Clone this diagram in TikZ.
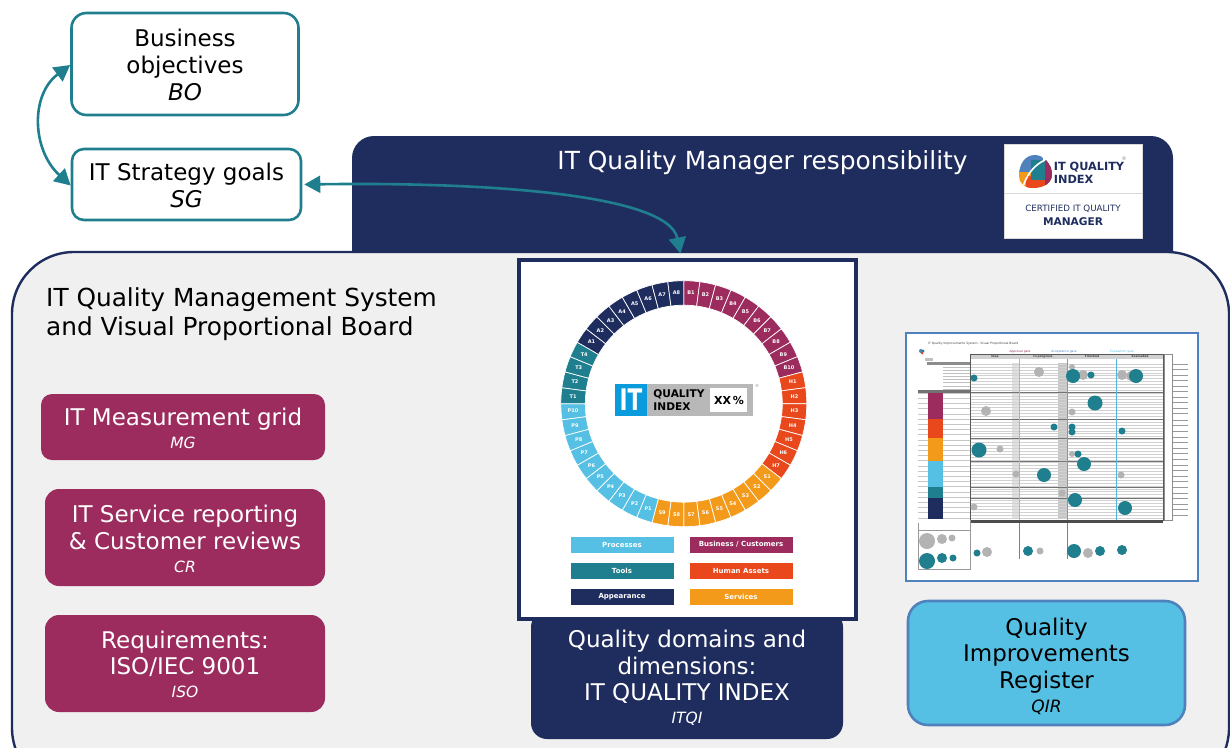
\documentclass[tikz,border=0pt]{standalone}
\usepackage{fontspec}
\setmainfont{DejaVu Sans}
\usetikzlibrary{arrows.meta}
\definecolor{navy}{HTML}{1F2D5E}
\definecolor{teal}{HTML}{1F7F8E}
\definecolor{mag}{HTML}{9C2C5E}
\definecolor{redor}{HTML}{E8481C}
\definecolor{oran}{HTML}{F39A1B}
\definecolor{lblue}{HTML}{55C0E3}
\definecolor{fblue}{HTML}{4F81BD}
\definecolor{panel}{HTML}{F0F0F0}
\definecolor{bub}{HTML}{B3B3B3}
\definecolor{itblue}{HTML}{0A9BDC}
\newcommand{\bigf}{\fontsize{23}{26.6}\selectfont}
\newcommand{\smf}{\fontsize{15.5}{19}\selectfont\itshape}
\newcommand{\dn}[1]{\rule{0pt}{#1pt}}
\tikzset{
  x=1pt,y=-1pt,
  goalbox/.style={draw=teal,line width=2.6pt,rounded corners=15pt,fill=white,align=center,text=black,inner sep=0pt,font=\bigf},
  magbox/.style={fill=mag,rounded corners=11pt,text=white,align=center,inner sep=0pt,font=\bigf},
  conn/.style={draw=teal,line width=2.6pt,{Triangle[width=17pt,length=16pt]}-{Triangle[width=17pt,length=16pt]}},
  legendbox/.style={inner sep=0pt,text=white,font=\fontsize{7}{8}\selectfont\bfseries,draw=white,line width=.4pt},
  seglabel/.style={text=white,font=\fontsize{5}{6}\selectfont\bfseries,inner sep=0pt},
  tinytext/.style={inner sep=0pt,font=\fontsize{3}{3.5}\selectfont,text=black!75},
}
\newcommand{\ringpt}[2]{({683.8+#2*cos(#1)},{403.7-#2*sin(#1)})}
\newcommand{\ringrun}[4]{% start index, colour, prefix, count
  \foreach \k in {1,...,#4}{
    \pgfmathsetmacro{\aA}{90-7.5*(#1+\k-1)}
    \pgfmathsetmacro{\aP}{\aA-2.5}
    \pgfmathsetmacro{\aQ}{\aA-5}
    \pgfmathsetmacro{\aB}{\aA-7.5}
    \pgfmathsetmacro{\aM}{\aA-3.75}
    \fill[#2,draw=white,line width=.7pt] \ringpt{\aA}{123} -- \ringpt{\aP}{123} -- \ringpt{\aQ}{123} -- \ringpt{\aB}{123}
       -- \ringpt{\aB}{98.5} -- \ringpt{\aQ}{98.5} -- \ringpt{\aP}{98.5} -- \ringpt{\aA}{98.5} -- cycle;
    \node[seglabel] (seg#3\k) at \ringpt{\aM}{111} {#3\k};
  }}
\newcommand{\bubT}[3]{\fill[teal] (#1,#2) circle[radius=#3];}
\newcommand{\bubG}[3]{\fill[bub] (#1,#2) circle[radius=#3];}
\begin{document}
\begin{tikzpicture}
\useasboundingbox (0,0) rectangle (1230,747);
\begin{scope}
\clip (0,0) rectangle (1230,747);
% navy responsibility panel
\path[fill=navy,rounded corners=22pt] (352,136) rectangle (1173,300);
% grey main panel
\path[fill=panel,draw=navy,line width=2.4pt,rounded corners=62pt] (12,252) rectangle (1229,790);
\end{scope}
\node[text=white,inner sep=0pt,font=\fontsize{24.9}{29}\selectfont] (title) at (762.5,163) {IT Quality Manager responsibility};
% certificate
\node[fill=white,draw=black!15,line width=.8pt,minimum width=138pt,minimum height=94pt,inner sep=0pt] (cert) at (1073,191) {};
\draw[black!15,line width=.8pt] (1004,193) -- (1142,193);
\begin{scope}
\clip (1035,155) .. controls (1044,155) and (1052,165) .. (1052,174) .. controls (1052,183) and (1044,188) .. (1033,188) .. controls (1024,188) and (1019,183) .. (1019,176) .. controls (1019,164) and (1025,155) .. (1035,155) -- cycle;
\fill[oran] (1015,170) rectangle (1032,192);
\fill[redor] (1026,176) rectangle (1056,192);
\fill[fblue] (1015,150) rectangle (1043,172);
\fill[teal] (1031,160) rectangle (1056,180);
\fill[mag] (1045,160) rectangle (1056,190);
\draw[white,line width=1.6pt] (1045,160) .. controls (1034,165) and (1026,175) .. (1022,190);
\end{scope}
\node[inner sep=0pt,align=left,text=navy,font=\fontsize{11.3}{13.5}\selectfont\bfseries] (certlogo) at (1089,173) {IT QUALITY\\INDEX};
\node[inner sep=0pt,text=black!45,font=\fontsize{5}{6}\selectfont] (certreg) at (1124,159) {®};
\node[inner sep=0pt,text=navy,font=\fontsize{8.7}{11}\selectfont] (certa) at (1073,209) {CERTIFIED IT QUALITY};
\node[inner sep=0pt,text=navy,font=\fontsize{10.6}{12}\selectfont\bfseries] (certb) at (1073,221.5) {MANAGER};
% goal boxes
\node[goalbox,minimum width=227pt,minimum height=102pt] (bo) at (185,64) {\dn{19.5}Business\\objectives\\\textit{BO}};
\node[goalbox,minimum width=229pt,minimum height=71pt,rounded corners=12pt] (sg) at (186.5,184.5) {\dn{19.5}IT Strategy goals\\\textit{SG}};
% panel title
\node[inner sep=0pt,align=left,anchor=west,font=\fontsize{24.8}{29}\selectfont] (pt) at (46,314) {IT Quality Management System\\and Visual Proportional Board};
% magenta boxes
\node[magbox,minimum width=284pt,minimum height=66pt] (mg) at (183,427) {\dn{20.5}IT Measurement grid\\[-3.6pt]{\smf MG}};
\node[magbox,minimum width=280pt,minimum height=97pt,rounded corners=14pt] (cr) at (185,537.5) {\dn{20.5}IT Service reporting\\\& Customer reviews\\[-3.6pt]{\smf CR}};
\node[magbox,minimum width=280pt,minimum height=97pt,rounded corners=14pt] (iso) at (185,663.5) {\dn{19.5}Requirements:\\ISO/IEC 9001\\[-3.6pt]{\smf ISO}};
% ITQI box
\node[fill=navy,rounded corners=16pt,text=white,align=center,inner sep=0pt,minimum width=312pt,minimum height=128pt,font=\bigf] (itqi) at (687,675) {\dn{23.5}Quality domains and\\dimensions:\\IT QUALITY INDEX\\[-3.6pt]{\smf ITQI}};
% QIR
\node[fill=lblue,draw=fblue,line width=2.6pt,rounded corners=20pt,align=center,inner sep=0pt,minimum width=277pt,minimum height=124pt,font=\bigf] (qir) at (1046.5,663) {\dn{23.5}Quality\\Improvements\\Register\\[-2.6pt]{\fontsize{17}{20}\selectfont\itshape QIR}};
% domain frame
\node[fill=white,draw=navy,line width=3.6pt,minimum width=337pt,minimum height=359pt,inner sep=0pt] (frame) at (687.5,439.5) {};
\ringrun{0}{mag}{B}{10}
\ringrun{10}{redor}{H}{7}
\ringrun{17}{oran}{S}{9}
\ringrun{26}{lblue}{P}{10}
\ringrun{36}{teal}{T}{4}
\ringrun{40}{navy}{A}{8}
% index logo
\fill[black!28] (647,384) rectangle (753,416);
\fill[white] (710,388) rectangle (747,412);
\node[fill=itblue,inner sep=0pt,minimum width=32pt,minimum height=32pt,text=white,font=\fontsize{27}{30}\selectfont\bfseries] (itlogo) at (631,400) {\scalebox{.8}[1.1]{IT}};
\node[inner sep=0pt,align=left,font=\fontsize{10.6}{13.5}\selectfont\bfseries,text=black] (qilogo) at (679,400) {QUALITY\\INDEX};
\node[inner sep=0pt,font=\fontsize{11}{14}\selectfont\bfseries,text=black] (xx) at (729,400) {XX\,\%};
\node[inner sep=0pt,text=black!45,font=\fontsize{4}{5}\selectfont] (reg) at (757,386) {®};
% legend
\node[legendbox,fill=lblue,minimum width=104pt,minimum height=17pt] (l1) at (622,544.5) {Processes};
\node[legendbox,fill=teal,minimum width=104pt,minimum height=17pt] (l2) at (622,570.5) {Tools};
\node[legendbox,fill=navy,minimum width=104pt,minimum height=17pt] (l3) at (622,596.5) {Appearance};
\node[legendbox,fill=mag,minimum width=104pt,minimum height=17pt] (l4) at (741,544.5) {Business / Customers};
\node[legendbox,fill=redor,minimum width=104pt,minimum height=17pt] (l5) at (741,570.5) {Human Assets};
\node[legendbox,fill=oran,minimum width=104pt,minimum height=17pt] (l6) at (741,596.5) {Services};
% board image
\node[fill=white,draw=fblue,line width=2.8pt,minimum width=292pt,minimum height=248pt,inner sep=0pt] (board) at (1052,457) {};
\node[tinytext,anchor=west] (bt) at (928,344) {IT Quality Improvements System - Visual Proportional Board};
\fill[fblue] (921,351) circle[radius=2];\fill[redor] (922,353) circle[radius=1.5];\fill[teal] (923,351) circle[radius=1.5];
\fill[black!25] (925,358) rectangle (933,361);
% column heads
\fill[black!18] (970,354) rectangle (1163,359);
\node[tinytext,font=\fontsize{3}{3.5}\selectfont\bfseries] (h1) at (995,356.5) {Idea};
\node[tinytext,font=\fontsize{3}{3.5}\selectfont\bfseries] (h2) at (1043,356.5) {In progress};
\node[tinytext,font=\fontsize{3}{3.5}\selectfont\bfseries] (h3) at (1092,356.5) {Finished};
\node[tinytext,font=\fontsize{3}{3.5}\selectfont\bfseries] (h4) at (1140,356.5) {Evaluated};
\node[tinytext,text=mag] (g1) at (1020,352) {Approval gate};
\node[tinytext,text=fblue] (g2) at (1064,352) {Acceptance gate};
\node[tinytext,text=lblue] (g3) at (1122,352) {Evaluation gate};
% grey gate bands
\fill[black!12] (1012,363) rectangle (1019,519);
\fill[black!22] (1058,363) rectangle (1067,519);
% row lines
\foreach \r in {0,...,53}{
  \draw[black!18,line width=.35pt] (970,{364+\r*2.9}) -- (1163,{364+\r*2.9});
}
\foreach \r in {0,...,24}{
  \draw[black!22,line width=.35pt] (943,{393+\r*5.2}) -- (970,{393+\r*5.2});
  \draw[black!22,line width=.35pt] (918,{393+\r*5.2}) -- (928,{393+\r*5.2});
}
\foreach \r in {0,...,8}\draw[black!25,line width=.35pt] (943,{364+\r*3.1}) -- (970,{364+\r*3.1});
\foreach \r in {0,...,9}\draw[black!40,line width=.5pt] (1172,{364+\r*5.5}) -- (1188,{364+\r*5.5});
\foreach \r in {0,...,17}\draw[black!40,line width=.5pt] (1172,{420+\r*5.6}) -- (1188,{420+\r*5.6});
\foreach \yy in {392,419,438,461,487,498}\draw[black!55,line width=.45pt] (970,\yy) -- (1163,\yy);
\fill[black!55] (918,390) rectangle (970,392.5);
\fill[black!45] (927,362) rectangle (970,364.5);
% colour columns
\fill[mag] (928,393) rectangle (943,419);
\fill[redor] (928,419) rectangle (943,438);
\fill[oran] (928,438) rectangle (943,461);
\fill[lblue] (928,461) rectangle (943,487);
\fill[teal] (928,487) rectangle (943,498);
\fill[navy] (928,498) rectangle (943,519);
% frame and dividers
\draw[black!65,line width=.9pt] (970,354) rectangle (1163,520);
\draw[black!45,line width=.6pt] (1164,354) rectangle (1172,520);
\draw[mag!45!white,line width=.7pt] (1019,359) -- (1019,520);
\draw[fblue!80!white,line width=.7pt] (1067,359) -- (1067,520);
\draw[lblue!80!fblue,line width=.7pt] (1116,359) -- (1116,520);
\fill[black!70] (970,520) rectangle (1163,523);
\draw[black!50,line width=.6pt] (1019,523) -- (1019,559);
\draw[black!50,line width=.6pt] (1067,523) -- (1067,559);
\draw[black!40,line width=.6pt] (918,523) -- (918,569) -- (970,569) -- (970,520);
\draw[black!40,line width=.6pt] (918,530) -- (970,530);
% bubbles
\bubG{1072}{367}{3}\bubG{1039}{372}{5}\bubG{1083}{375}{5}\bubG{1122}{375}{5}\bubG{1131}{376}{5}\bubG{986}{411}{5}\bubG{1072}{412}{3.5}\bubG{1000}{449}{3.5}\bubG{1072}{454}{3}
\bubG{1016}{474}{3.5}\bubG{1121}{475}{3.5}\bubG{1062}{493}{3.5}\bubG{974}{507}{3.5}\bubG{987}{552}{5}\bubG{1040}{551}{3.5}\bubG{1088}{553}{5}\bubG{927}{541}{8}\bubG{942}{539}{5}\bubG{952}{538}{3.5}
\bubT{974}{378}{3.5}\bubT{1073}{376}{7}\bubT{1091}{375}{3.5}\bubT{1136}{376}{7}\bubT{1095}{403}{7.5}\bubT{1054}{427}{3.5}\bubT{1072}{427}{3.5}\bubT{1072}{432}{3.5}\bubT{1122}{431}{3.5}\bubT{979}{450}{7.5}\bubT{1078}{454}{3.5}
\bubT{1084}{464}{7}\bubT{1044}{475}{7}\bubT{1075}{500}{7}\bubT{1125}{508}{7}\bubT{977}{553}{3.5}\bubT{1028}{551}{5}\bubT{1074}{551}{7}\bubT{1100}{551}{5}\bubT{1122}{550}{5}\bubT{927}{561}{8}\bubT{942}{558}{5}\bubT{953}{558}{3.5}
% connectors
\coordinate (tip) at (680.5,253.5);
\draw[conn] ([yshift=-1pt]bo.west) .. controls (30,95) and (32,150) .. ([yshift=-1pt]sg.west);
\draw[conn] ([xshift=2pt]sg.east) .. controls (470,182) and (668,192) .. (tip);
\end{tikzpicture}
\end{document}
